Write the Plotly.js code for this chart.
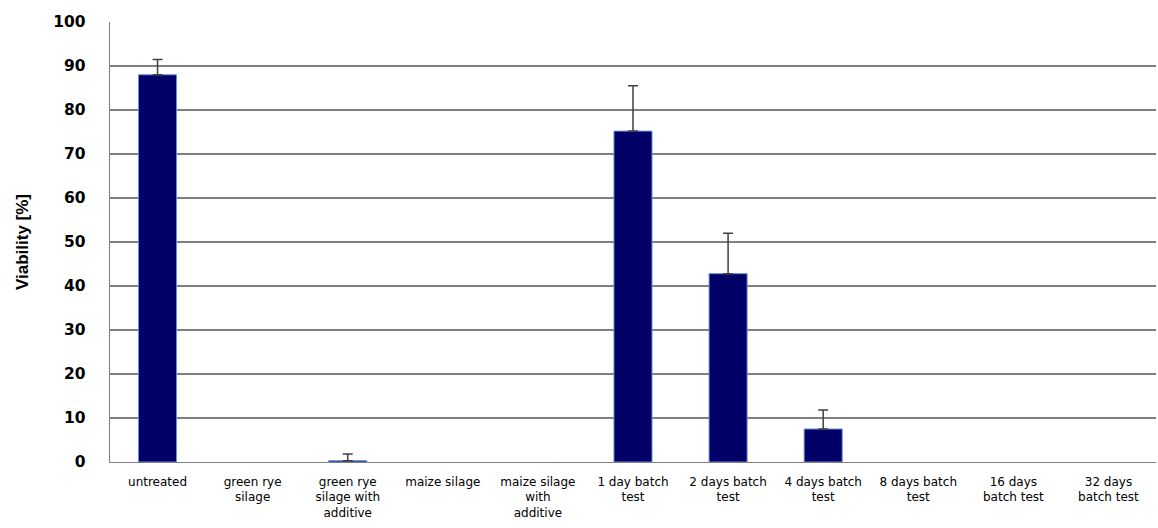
<!DOCTYPE html>
<html>
<head>
<meta charset="utf-8">
<script src="https://cdn.plot.ly/plotly-3.0.1.min.js"></script>
<style>html,body{margin:0;padding:0;background:#fff;}#chart{width:1158px;height:528px;}</style>
</head>
<body>
<div id="chart"></div>
<script>
const categories = [
  "untreated",
  "green rye<br>silage",
  "green rye<br>silage with<br>additive",
  "maize silage",
  "maize silage<br>with<br>additive",
  "1 day batch<br>test",
  "2 days batch<br>test",
  "4 days batch<br>test",
  "8 days batch<br>test",
  "16 days<br>batch test",
  "32 days<br>batch test"
];
const viability = [88, 0, 0.3, 0, 0, 75.2, 42.8, 7.5, 0, 0, 0];
// null = no error bar shown for that category
const errorPlus = [3.5, null, 1.5, null, null, 10.3, 9.2, 4.3, null, null, null];
const yTicks = [0, 10, 20, 30, 40, 50, 60, 70, 80, 90, 100];

const barTrace = {
  type: 'bar',
  x: categories,
  y: viability,
  width: 0.4,
  marker: {
    color: '#000066',
    opacity: viability.map(v => v > 0 ? 1 : 0),
    line: {color: '#6a8fd8', width: viability.map(v => v > 0 ? 1 : 0)}
  },
  hoverinfo: 'none'
};

const idx = errorPlus.map((e, i) => e === null ? -1 : i).filter(i => i >= 0);
const errTrace = {
  type: 'scatter',
  mode: 'markers',
  x: idx.map(i => categories[i]),
  y: idx.map(i => viability[i]),
  marker: {size: 1, opacity: 0},
  error_y: {
    type: 'data', symmetric: false,
    array: idx.map(i => errorPlus[i]),
    arrayminus: idx.map(() => 0),
    color: '#404040', thickness: 1.5, width: 5
  },
  hoverinfo: 'none'
};

const layout = {
  width: 1158, height: 528,
  margin: {l: 110, r: 2, t: 22, b: 66},
  paper_bgcolor: '#fff', plot_bgcolor: '#fff',
  showlegend: false,
  xaxis: {
    type: 'category',
    categoryorder: 'array', categoryarray: categories,
    range: [-0.5, categories.length - 0.5],
    showgrid: false,
    showline: true, linecolor: '#808080', linewidth: 1.3,
    ticks: '',
    ticklabelstandoff: 8,
    tickfont: {family: 'DejaVu Sans', size: 12, color: '#000'},
    tickangle: 0,
    automargin: false
  },
  yaxis: {
    range: [0, 100],
    tickvals: yTicks,
    ticktext: yTicks.map(String),
    showgrid: true, gridcolor: '#808080', gridwidth: 1.3,
    zeroline: false,
    showline: true, linecolor: '#808080', linewidth: 1.3,
    ticks: '',
    ticklabelstandoff: 20,
    tickfont: {family: 'DejaVu Sans', size: 15.5, color: '#000', weight: 'bold'},
    title: {text: 'Viability [%]', font: {family: 'Liberation Sans Narrow, Liberation Sans', size: 17, color: '#000', weight: 'bold'}, standoff: 20},
    automargin: false
  }
};

Plotly.newPlot('chart', [barTrace, errTrace], layout, {staticPlot: true, displayModeBar: false});
</script>
</body>
</html>
